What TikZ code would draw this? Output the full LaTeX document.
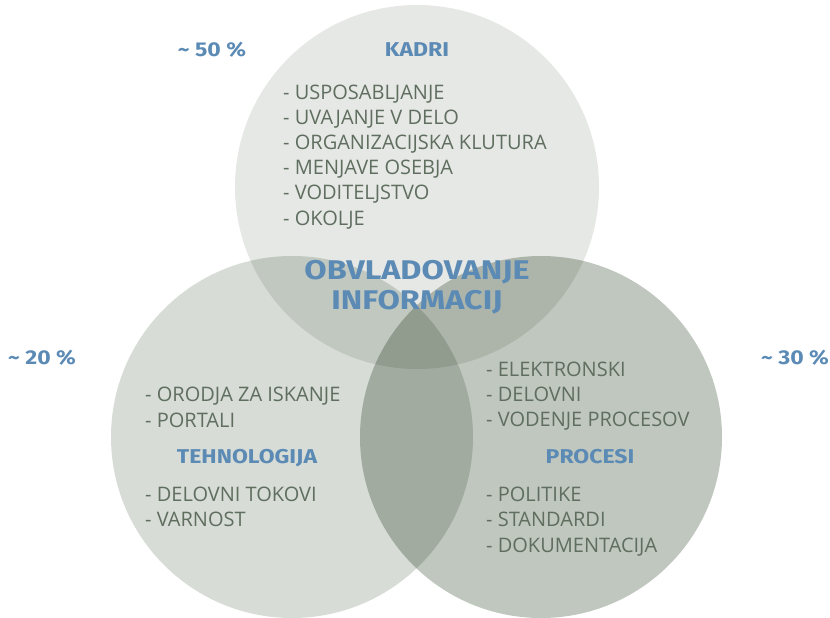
\documentclass[tikz,border=0pt]{standalone}
\usepackage{fontspec}
\setmainfont{Open Sans}
\newfontfamily\headfont{Fira Sans}
\newcommand\hstretch[1]{\scalebox{1.15}[1]{#1}}
\newcommand\bstretch[1]{\scalebox{1.2}[1]{#1}}
\definecolor{ctop}{RGB}{230,232,229}
\definecolor{cleft}{RGB}{215,220,214}
\definecolor{cright}{RGB}{192,199,191}
\definecolor{itemc}{RGB}{95,110,95}
\definecolor{headc}{RGB}{91,138,181}
\tikzset{
  item/.style={anchor=west, inner sep=0pt, text=itemc, font=\fontsize{20}{20}\selectfont, text height=14.3pt, text depth=0pt},
  head/.style={anchor=center, inner sep=0pt, text=headc, font=\headfont\fontsize{20}{20}\selectfont\bfseries, text height=13.8pt, text depth=0pt},
  big/.style={anchor=center, inner sep=0pt, text=headc, font=\headfont\fontsize{27}{27}\selectfont\bfseries, text height=18.6pt, text depth=0pt},
}
\begin{document}
\begin{tikzpicture}[x=1pt,y=-1pt]
\useasboundingbox (0,0) rectangle (830,618);
\begin{scope}[blend group=multiply]
  \fill[ctop] (417,187) circle[radius=182];
  \fill[cleft] (292,437) circle[radius=181];
  \fill[cright] (541,437) circle[radius=181];
\end{scope}
% percentages
\node[head] (p50) at (212,50) {\hstretch{\textasciitilde{} 50 \%}};
\node[head] (p20) at (42,358) {\hstretch{\textasciitilde{} 20 \%}};
\node[head] (p30) at (795,358) {\hstretch{\textasciitilde{} 30 \%}};
% headings
\node[head] (kadri) at (417,50) {\hstretch{KADRI}};
\node[head] (teh) at (247,457) {\hstretch{TEHNOLOGIJA}};
\node[head] (proc) at (590,457) {\hstretch{PROCESI}};
\node[big] (obv) at (417,270) {\bstretch{OBVLADOVANJE}};
\node[big] (inf) at (417,300) {\bstretch{INFORMACIJ}};
% top items
\foreach \t [count=\i] in {USPOSABLJANJE,UVAJANJE V DELO,ORGANIZACIJSKA KLUTURA,MENJAVE OSEBJA,VODITELJSTVO,OKOLJE}
  \node[item] (k\i) at (283,{92+25.2*(\i-1)}) {- \t};
% left items
\node[item] (l1) at (145,394) {- ORODJA ZA ISKANJE};
\node[item] (l2) at (145,420) {- PORTALI};
\node[item] (l3) at (145,494) {- DELOVNI TOKOVI};
\node[item] (l4) at (145,519) {- VARNOST};
% right items
\node[item] (r1) at (486,369) {- ELEKTRONSKI};
\node[item] (r2) at (486,394) {- DELOVNI};
\node[item] (r3) at (486,419) {- VODENJE PROCESOV};
\node[item] (r4) at (486,494) {- POLITIKE};
\node[item] (r5) at (486,519) {- STANDARDI};
\node[item] (r6) at (486,545) {- DOKUMENTACIJA};
\end{tikzpicture}
\end{document}
